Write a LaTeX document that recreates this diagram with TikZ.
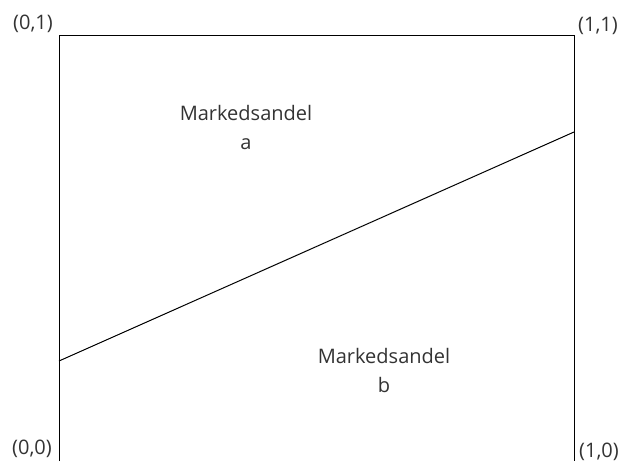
\documentclass[tikz,border=0pt]{standalone}
\usepackage{fontspec}
\setmainfont{Open Sans}
\begin{document}
\begin{tikzpicture}[x=1pt,y=-1pt,
  lbl/.style={text=black!80,font=\fontsize{20}{29}\selectfont,inner sep=0pt},
  edge/.style={draw=black,line width=1pt}]
\useasboundingbox (0,0) rectangle (621,461);
\coordinate (bl) at (59,461);
\coordinate (tl) at (59,35);
\coordinate (tr) at (574,35);
\coordinate (br) at (574,461);
\coordinate (l0) at (59,361);
\coordinate (r0) at (574,132);
\draw[edge] (bl) -- (tl) -- (tr) -- (br);
\draw[edge] (l0) -- (r0);
\node[lbl] (c01) at (33,24) {(0,1)};
\node[lbl] (c11) at (598,26) {(1,1)};
\node[lbl] (c00) at (32,449) {(0,0)};
\node[lbl] (c10) at (599,452) {(1,0)};
\node[lbl,align=center] (ma) at (246,127) {Markedsandel\\a};
\node[lbl,align=center] (mb) at (384,370) {Markedsandel\\b};
\end{tikzpicture}
\end{document}
